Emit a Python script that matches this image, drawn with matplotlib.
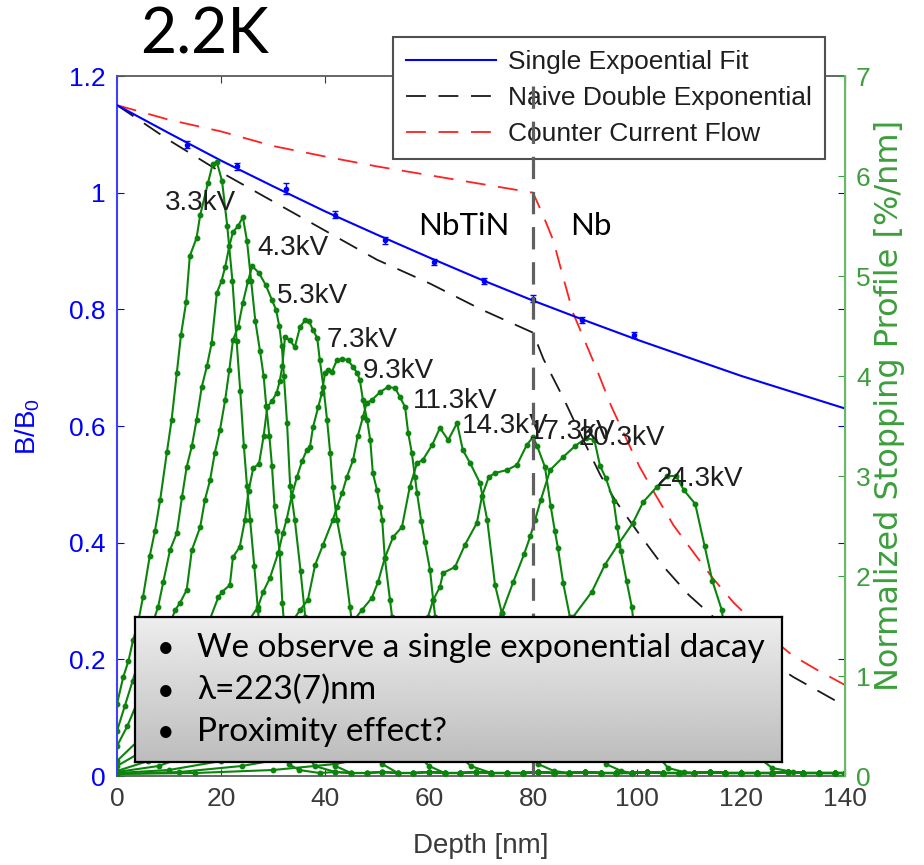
import numpy as np
import matplotlib
matplotlib.use("Agg")
import matplotlib.pyplot as plt
from matplotlib.ticker import FuncFormatter

plt.rcParams['font.family'] = ['Liberation Sans', 'DejaVu Sans']
plt.rcParams['mathtext.fontset'] = 'custom'
plt.rcParams['mathtext.rm'] = 'Liberation Sans'
plt.rcParams['mathtext.it'] = 'Liberation Sans'

# ---- field ratio B/B0 (left axis) ----
fitDepth = [0, 10, 20, 30, 40, 50, 60, 70, 80, 90, 100, 110, 120, 130, 140]
fitRatio = [1.15, 1.102, 1.055, 1.011, 0.968, 0.928, 0.889, 0.851, 0.815,
            0.781, 0.748, 0.717, 0.686, 0.658, 0.630]

measDepth = [13.5, 23, 32.5, 42, 51.5, 61, 70.5, 80, 89.5, 99.5]
measRatio = [1.082, 1.045, 1.007, 0.962, 0.918, 0.881, 0.849, 0.818, 0.782, 0.756]
measErr = [0.006, 0.006, 0.010, 0.006, 0.006, 0.005, 0.005, 0.006, 0.005, 0.005]

doubleDepth = [0, 10, 20, 30, 40, 50, 60, 70, 80, 82, 84, 86, 88, 90, 93, 96,
               100, 105, 110, 115, 120, 125, 130, 135, 140]
doubleRatio = [1.15, 1.09, 1.035, 0.985, 0.935, 0.885, 0.845, 0.80, 0.76, 0.715,
               0.68, 0.645, 0.607, 0.57, 0.515, 0.47, 0.42, 0.36, 0.31, 0.27,
               0.235, 0.20, 0.17, 0.145, 0.12]

counterDepth = [0, 10, 20, 30, 40, 50, 60, 70, 80, 82, 83.9, 85.8, 87.7, 90,
                92.3, 95, 98.1, 100.5, 103.1, 107, 110.8, 114.5, 118.5, 124,
                130, 135, 140]
counterRatio = [1.15, 1.125, 1.105, 1.08, 1.062, 1.045, 1.03, 1.015, 1.0,
                0.96, 0.918, 0.855, 0.794, 0.745, 0.696, 0.635, 0.575, 0.53,
                0.489, 0.43, 0.384, 0.34, 0.298, 0.25, 0.206, 0.18, 0.156]

boundaryDepth = 80

# ---- stopping profiles (right axis, %/nm) ----
energies = ["3.3kV", "4.3kV", "5.3kV", "7.3kV", "9.3kV",
            "11.3kV", "14.3kV", "17.3kV", "20.3kV", "24.3kV"]

depth33 = [0, 1.2, 2.2, 3.1, 4.0, 5.0, 6.3, 7.3, 8.3, 9.6, 10.5, 11.5, 12.3, 13.3,
           14.0, 15.3, 16.0, 17.5, 18.4, 19.2, 20.2, 21.2, 22.2, 23.0, 23.7,
           24.4, 25.0, 25.6, 26.4, 27.1, 28.0, 29.0, 30.0, 31.5, 33.0, 35.0]
prof33 = [0.72, 0.99, 1.15, 1.36, 1.52, 1.79, 2.2, 2.45, 2.76, 3.24, 3.56, 4.03,
          4.41, 4.74, 5.2, 5.38, 5.61, 5.93, 6.12, 6.14, 5.95, 5.5, 4.95, 4.35,
          3.85, 3.3, 2.9, 2.56, 2.1, 1.66, 1.2, 0.8, 0.5, 0.25, 0.12, 0.06]

depth43 = [0, 1.5, 3.0, 4.5, 6.0, 7.0, 7.9, 8.9, 10.2, 11.5, 12.5, 13.4, 14.4,
           15.3, 16.3, 17.3, 18.2, 19.2, 20.1, 20.8, 21.6, 22.3, 23.3, 24.2,
           25.0, 25.8, 26.6, 27.5, 28.2, 28.7, 29.3, 29.8, 30.3, 30.8, 31.3,
           31.8, 32.5, 33.5, 34.5, 36.0, 38.0]
prof43 = [0.45, 0.7, 0.95, 1.2, 1.4, 1.55, 1.69, 1.94, 2.26, 2.43, 2.79, 3.09,
          3.3, 3.56, 3.89, 4.1, 4.33, 4.83, 4.95, 5.09, 5.3, 5.44, 5.5, 5.59,
          5.35, 4.95, 4.55, 4.25, 4.0, 3.7, 3.4, 3.1, 2.7, 2.45, 2.23, 1.73,
          1.3, 0.9, 0.55, 0.25, 0.1]

depth53 = [0, 2, 4, 6, 8, 10, 11.2, 12.1, 13.4, 14.4, 16.0, 16.9, 17.9, 18.8,
           19.8, 20.8, 21.6, 22.3, 23.3, 24.2, 25.2, 26.0, 27.3, 28.6, 29.8,
           30.6, 31.2, 31.7, 32.1, 32.7, 33.3, 34.2, 35.3, 36.2, 37.0, 38.0,
           39.0, 40.5, 42.0]
prof53 = [0.3, 0.5, 0.75, 1.0, 1.25, 1.5, 1.66, 1.73, 1.86, 2.26, 2.49, 2.76,
          2.96, 3.23, 3.46, 3.76, 4.06, 4.36, 4.49, 4.73, 4.95, 5.1, 5.03, 4.91,
          4.76, 4.66, 4.5, 4.3, 4.0, 3.53, 2.9, 2.56, 2.05, 1.59, 1.1, 0.7, 0.4,
          0.2, 0.1]

depth73 = [0, 4, 8, 11, 14, 17, 19.5, 20.2, 21.7, 22.3, 23.6, 24.6, 25.3, 26.2,
           27.3, 28.2, 28.9, 29.8, 30.7, 31.3, 31.8, 32.3, 33.2, 34.2, 35.2,
           36.2, 36.9, 37.7, 38.5, 39.0, 39.7, 40.4, 41.0, 41.5, 42.3, 43.5,
           44.8, 46.0, 47.0, 48.0, 49.5, 51.0]
prof73 = [0.15, 0.35, 0.6, 0.85, 1.15, 1.45, 1.79, 1.84, 1.91, 2.19, 2.29, 2.56,
          2.85, 3.08, 3.12, 3.4, 3.69, 3.75, 3.83, 3.95, 4.1, 4.39, 4.36, 4.29,
          4.49, 4.56, 4.55, 4.46, 4.38, 4.16, 3.89, 3.56, 3.23, 2.89, 2.56,
          2.23, 1.69, 1.2, 0.8, 0.5, 0.25, 0.12]

depth93 = [0, 5, 10, 15, 20, 24, 27.1, 28.1, 29.4, 31.0, 31.9, 32.6, 33.6, 34.6,
           35.6, 36.5, 37.1, 37.7, 38.7, 39.4, 40.0, 40.6, 41.3, 42.3, 43.3,
           44.4, 45.4, 46.2, 46.7, 47.3, 48.1, 48.7, 49.2, 50.0, 50.6, 51.0,
           51.5, 52.5, 52.9, 54.0, 55.0, 56.5, 58.0, 60.0]
prof93 = [0.1, 0.25, 0.45, 0.75, 1.1, 1.45, 1.69, 1.84, 1.98, 2.23, 2.43, 2.56,
          2.8, 2.99, 3.15, 3.26, 3.29, 3.49, 3.69, 3.83, 4.03, 4.06, 4.04, 4.16,
          4.17, 4.16, 4.09, 4.03, 3.96, 3.76, 3.56, 3.36, 3.03, 2.86, 2.69,
          2.56, 2.18, 1.76, 1.59, 1.1, 0.7, 0.4, 0.2, 0.1]

depth113 = [0, 6, 12, 18, 24, 29, 32.5, 35.2, 36.7, 38.1, 39.6, 41.5, 42.3,
            43.3, 44.2, 45.4, 46.3, 47.3, 48.0, 49.0, 50.6, 52.1, 53.5, 54.4,
            55.4, 56.0, 56.7, 57.3, 57.7, 58.5, 59.2, 60.2, 60.8, 61.2, 62.0,
            63.0, 64.5, 66.0, 68.0]
prof113 = [0.05, 0.15, 0.35, 0.6, 0.9, 1.2, 1.45, 1.66, 1.76, 2.11, 2.31, 2.56,
           2.69, 2.83, 2.99, 3.16, 3.4, 3.59, 3.73, 3.76, 3.84, 3.89, 3.88,
           3.79, 3.69, 3.43, 3.23, 2.99, 2.83, 2.55, 2.34, 2.06, 1.76, 1.59,
           1.1, 0.7, 0.4, 0.2, 0.1]

depth143 = [0, 8, 16, 24, 31, 37, 42, 45, 47.1, 49.0, 50.2, 51.5, 53.1, 54.8,
            56.3, 57.7, 58.8, 60.6, 62.1, 63.7, 65.4, 66.5, 67.9, 69.8, 71.2,
            72.7, 74.0, 75.5, 77.0, 79.0, 81.0, 84.0]
prof143 = [0.04, 0.1, 0.25, 0.45, 0.75, 1.05, 1.35, 1.52, 1.66, 1.78, 1.94,
           2.18, 2.39, 2.49, 2.89, 3.13, 3.16, 3.31, 3.48, 3.36, 3.53, 3.26,
           3.13, 2.93, 2.56, 1.91, 1.63, 1.1, 0.6, 0.3, 0.12, 0.05]

depth173 = [0, 10, 20, 30, 38, 45, 50, 54, 57, 59.8, 60.8, 62.1, 62.7, 65.0,
            66.9, 69.2, 70.2, 71.5, 72.7, 75.0, 76.9, 78.8, 80.0, 80.8, 82.3,
            83.4, 84.2, 84.8, 85.8, 87.1, 88.5, 90.0, 92.0, 94.0, 97.0]
prof173 = [0.03, 0.06, 0.15, 0.3, 0.5, 0.8, 1.05, 1.28, 1.45, 1.59, 1.76, 1.89,
           2.03, 2.09, 2.31, 2.53, 2.8, 2.99, 3.03, 3.06, 3.11, 3.31, 3.39, 3.3,
           3.09, 2.7, 2.45, 2.28, 1.93, 1.59, 1.1, 0.6, 0.3, 0.12, 0.05]

depth203 = [0, 12, 24, 35, 45, 53, 60, 65, 69, 72, 74.0, 76.2, 78.3, 79.5,
            80.4, 81.5, 83.3, 85.8, 88.1, 90.2, 91.8, 92.9, 94.0, 95.5, 96.2,
            96.9, 98.0, 99.0, 100.5, 102.0, 104.0, 106.0, 109.0]
prof203 = [0.02, 0.04, 0.1, 0.2, 0.35, 0.55, 0.8, 1.05, 1.28, 1.45, 1.63, 1.94,
           2.22, 2.4, 2.56, 2.76, 3.06, 3.19, 3.3, 3.38, 3.36, 3.1, 2.98, 2.75,
           2.49, 2.25, 1.95, 1.69, 1.0, 0.5, 0.2, 0.08, 0.04]

depth243 = [0, 15, 30, 42, 52, 60, 67, 73, 78, 82, 85, 87.7, 91.3, 93.8, 96.3,
            99.2, 101.2, 103.8, 105.8, 107.5, 109.0, 111.2, 113.0, 114.5, 116.3,
            117.5, 119.0, 121.0, 123.0, 126.0, 130.0]
prof243 = [0.02, 0.03, 0.06, 0.12, 0.22, 0.35, 0.55, 0.8, 1.05, 1.25, 1.42, 1.59,
           1.84, 2.11, 2.31, 2.53, 2.74, 2.89, 3.0, 3.0, 2.86, 2.72, 2.3, 1.95,
           1.66, 1.2, 0.8, 0.4, 0.2, 0.08, 0.04]

# near-zero tail that every profile runs along out to 140 nm
tailDepth = [36, 39, 42, 45, 48, 51, 54, 57, 60, 63, 66, 69, 72, 75, 78, 81, 84,
             87, 90, 93, 96, 99, 102, 105, 108, 111, 114, 117, 120, 123, 126,
             129, 132, 135, 138, 140]
tailLevel = [0.04, 0.03, 0.04, 0.03, 0.03, 0.04, 0.03, 0.03, 0.04, 0.03, 0.03,
             0.04, 0.03, 0.03, 0.03, 0.04, 0.03, 0.03, 0.04, 0.03, 0.03, 0.03,
             0.04, 0.03, 0.03, 0.03, 0.04, 0.03, 0.03, 0.03, 0.03, 0.04, 0.03,
             0.03, 0.03, 0.03]

# where each energy label sits (depth, %/nm)
labelDepth = [9.2, 26.9, 30.7, 40.4, 47.3, 56.9, 66.3, 79.2, 88.7, 103.8]
labelLevel = [5.73, 5.28, 4.8, 4.36, 4.05, 3.75, 3.5, 3.44, 3.38, 2.97]

BLUE = '#0000ff'
GREEN = '#0a840a'
AXGREEN = '#3c9e3c'
GRAY = '#3a3a3a'


def withTail(depth, value):
    """`withTail` extends a profile with the near-zero tail beyond its last point."""
    extraDepth = [d for d in tailDepth if d > depth[-1] + 1]
    extraLevel = [tailLevel[i] for i, d in enumerate(tailDepth) if d > depth[-1] + 1]
    return depth + extraDepth, value + extraLevel


fig = plt.figure(figsize=(9.24, 8.65), dpi=100)
ax = fig.add_axes([117 / 924, 1 - 776 / 865, 728 / 924, 700 / 865])
ax2 = ax.twinx()

# Left axis curves
ax.plot(fitDepth, fitRatio, color=BLUE, lw=1.5, label='Single Expoential Fit', zorder=3)
ax.errorbar(measDepth, measRatio, yerr=measErr, fmt='o', ms=3, color=BLUE,
            capsize=2, elinewidth=1, zorder=3)
ax.plot(doubleDepth, doubleRatio, color='#1a1a1a', lw=1.3, dashes=(11, 7),
        label='Naive Double Exponential')
ax.plot(counterDepth, counterRatio, color='#ff2020', lw=1.3, dashes=(11, 7),
        label='Counter Current Flow')

ax.set_xlim(0, 140)
ax.set_ylim(0, 1.2)
ax.set_xticks([0, 20, 40, 60, 80, 100, 120, 140])
ax.set_yticks([0, 0.2, 0.4, 0.6, 0.8, 1.0, 1.2])
ax.yaxis.set_major_formatter(FuncFormatter(lambda v, _: f'{v:g}'))
ax.tick_params(axis='x', direction='in', length=5, colors=GRAY, labelsize=19,
               top=True, pad=8)
ax.tick_params(axis='y', direction='in', length=5, colors=BLUE, labelsize=19,
               right=True, pad=8)
ax.spines['left'].set_color('#4040ff')
ax.spines['left'].set_linewidth(1.5)
for side in ['top', 'bottom']:
    ax.spines[side].set_color('#5a5a5a')
    ax.spines[side].set_linewidth(1.3)
ax.set_xlabel('Depth [nm]', fontsize=20, color=GRAY)
ax.xaxis.set_label_coords(0.5, -0.082)
ax.set_ylabel('B/B$_0$', fontsize=20, color=BLUE)
ax.yaxis.set_label_coords(-0.103, 0.5)

ax.text(57.9, 0.928, 'NbTiN', fontsize=22.5, family=['Lato', 'DejaVu Sans'], color='black')
ax.text(87.1, 0.928, 'Nb', fontsize=22.5, family=['Lato', 'DejaVu Sans'], color='black')

# Right axis: stopping profiles
profiles = [(depth33, prof33), (depth43, prof43), (depth53, prof53), (depth73, prof73),
            (depth93, prof93), (depth113, prof113), (depth143, prof143),
            (depth173, prof173), (depth203, prof203), (depth243, prof243)]
for depth, value in profiles:
    d, v = withTail(depth, value)
    ax2.plot(d, v, '-o', color=GREEN, lw=1.5, ms=3.2, zorder=2)

for name, x, y in zip(energies, labelDepth, labelLevel):
    ax2.text(x, y, name, fontsize=20, color='#1e1e1e', va='center', ha='left', zorder=4)

ax2.axvline(boundaryDepth, color='#606060', lw=2.3, dashes=(7, 4), zorder=6)

ax2.set_ylim(0, 7)
ax2.set_yticks([0, 1, 2, 3, 4, 5, 6, 7])
ax2.tick_params(axis='y', direction='in', length=5, colors=AXGREEN, labelsize=19, pad=8)
ax2.spines['right'].set_color('#66bb66')
ax2.spines['right'].set_linewidth(1.5)
for side in ['left', 'top', 'bottom']:
    ax2.spines[side].set_visible(False)
ax2.set_ylabel('Normalized Stopping Profile [%/nm]', fontsize=23,
               family=['DejaVu Sans'], color=AXGREEN)
ax2.yaxis.set_label_coords(1.04, 0.53)

# Legend (sits above the right axis content)
handles, labels = ax.get_legend_handles_labels()
leg = ax2.legend(handles, labels, loc='upper left',
                 bbox_to_anchor=(393 / 924, 1 - 37 / 865),
                 bbox_transform=fig.transFigure, borderaxespad=0,
                 fontsize=19, handlelength=3.4, handletextpad=0.45,
                 borderpad=0.5, labelspacing=0.45, fancybox=False,
                 framealpha=1, edgecolor='#505050')
leg.get_frame().set_linewidth(1.5)
leg.set_zorder(5)
for text in leg.get_texts():
    text.set_color('#1e1e1e')

# Slide title
fig.text(140 / 924, 1 - 53 / 865, '2.2K', fontsize=45, family=['Lato', 'DejaVu Sans'],
         va='baseline', ha='left')

# Gray note box with bullet points
box = fig.add_axes([135 / 924, 1 - 762 / 865, 647 / 924, 145 / 865])
shade = np.linspace(0.93, 0.74, 100).reshape(-1, 1)
box.imshow(shade, cmap='gray', vmin=0, vmax=1, aspect='auto', extent=[0, 1, 0, 1])
box.set_xticks([])
box.set_yticks([])
for side in box.spines.values():
    side.set_color('black')
    side.set_linewidth(1.6)
notes = ['We observe a single exponential dacay', 'λ=223(7)nm', 'Proximity effect?']
noteY = [0.724, 0.43, 0.148]
for line, y in zip(notes, noteY):
    box.text(0.034, y, '•', fontsize=22, family=['Lato', 'DejaVu Sans'], va='baseline')
    box.text(0.096, y, line, fontsize=24, family=['Lato', 'DejaVu Sans'], va='baseline')

fig.savefig('out.png', dpi=100)
